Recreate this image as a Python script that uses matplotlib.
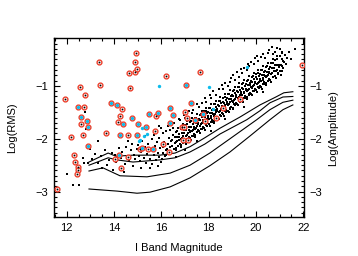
import matplotlib
matplotlib.use("Agg")
import matplotlib.pyplot as plt
from matplotlib.ticker import MultipleLocator, FuncFormatter

plt.rcParams['font.family'] = ['Liberation Sans', 'DejaVu Sans']

# ---- data (I-band magnitude, log RMS) ----
# dense band of field stars
band_mag = [
 16.01,16.05,16.09,16.12,16.15,16.18,
 16.21,16.24,16.27,16.31,16.34,16.37,16.39,
 16.41,16.44,16.47,16.50,16.53,16.56,16.58,
 16.61,16.63,16.66,16.68,16.71,16.74,16.76,16.79,
 16.81,16.83,16.86,16.88,16.91,16.93,16.96,16.98,
 17.01,17.03,17.05,17.08,17.10,17.12,17.15,17.17,17.19,
 17.21,17.23,17.25,17.27,17.30,17.32,17.34,17.36,17.38,17.40,
 17.41,17.43,17.45,17.47,17.49,17.51,17.53,17.55,17.57,17.59,
 17.61,17.63,17.65,17.67,17.69,17.71,17.73,17.75,17.77,17.79,
 17.81,17.83,17.85,17.87,17.89,17.91,17.93,17.95,17.97,17.99,
 18.01,18.03,18.05,18.07,18.09,18.11,18.13,18.15,18.17,18.19,
 18.21,18.23,18.25,18.27,18.29,18.31,18.33,18.35,18.37,18.39,
 18.41,18.43,18.45,18.47,18.49,18.51,18.53,18.55,18.57,18.59,
 18.61,18.63,18.65,18.67,18.69,18.71,18.73,18.75,18.77,18.79,
 18.81,18.83,18.85,18.87,18.89,18.91,18.93,18.95,18.97,18.99,
 19.01,19.03,19.05,19.07,19.09,19.11,19.13,19.15,19.17,19.19,
 19.21,19.23,19.25,19.27,19.29,19.31,19.33,19.35,19.37,19.39,
 19.41,19.43,19.45,19.47,19.49,19.51,19.53,19.55,19.57,19.59,
 19.61,19.63,19.65,19.67,19.69,19.71,19.73,19.75,19.77,19.79,
 19.81,19.83,19.85,19.87,19.89,19.91,19.93,19.95,19.97,19.99,
 20.01,20.03,20.05,20.07,20.09,20.11,20.13,20.15,20.17,20.19,
 20.21,20.23,20.25,20.27,20.29,20.31,20.33,20.35,20.37,20.39,
 20.41,20.43,20.45,20.47,20.49,20.51,20.53,20.55,20.57,20.59,
 20.61,20.64,20.67,20.70,20.73,20.76,20.79,
 20.82,20.85,20.88,20.91,20.94,20.97,
 21.02,21.06,21.10,21.14,21.18,
 21.25,21.30,
 # second, interleaved set
 16.64,16.72,16.68,16.76,16.62,16.70,
 16.84,16.92,16.88,16.96,16.82,16.90,
 17.04,17.12,17.08,17.16,17.02,17.10,
 17.24,17.32,17.28,17.36,17.22,17.30,
 17.44,17.52,17.48,17.56,17.42,17.50,
 17.64,17.72,17.68,17.76,17.62,17.70,
 17.84,17.92,17.88,17.96,17.82,17.90,
 18.04,18.12,18.08,18.16,18.02,18.10,
 18.24,18.32,18.28,18.36,18.22,18.30,
 18.44,18.52,18.48,18.56,18.42,18.50,
 18.64,18.72,18.68,18.76,18.62,18.70,
 18.84,18.92,18.88,18.96,18.82,18.90,
 19.04,19.12,19.08,19.16,19.02,19.10,
 19.24,19.32,19.28,19.36,19.22,19.30,
 19.44,19.52,19.48,19.56,19.42,19.50,
 19.64,19.72,19.68,19.76,19.62,19.70,
 19.84,19.92,19.88,19.96,19.82,19.90,
 20.04,20.12,20.08,20.16,20.02,20.10,
 20.24,20.32,20.28,20.36,20.22,20.30,
 20.44,20.52,20.48,20.56,20.42,20.50,
 20.64,20.72,20.68,20.76,20.62,20.70,
 20.84,20.92,20.88,20.96,20.82,20.90,
 21.04,21.12,21.08,21.16,21.02,21.10,
]
band_rms = [
 -2.38,-2.27,-2.16,-2.06,-2.33,-2.21,
 -2.31,-2.20,-2.09,-1.99,-2.26,-2.15,-2.04,
 -2.25,-2.14,-2.03,-1.93,-2.20,-2.08,-1.97,
 -2.18,-2.07,-1.96,-1.86,-2.13,-2.02,-1.91,-2.09,
 -2.12,-2.01,-1.90,-1.80,-2.07,-1.95,-1.84,-2.03,
 -2.06,-1.95,-1.84,-1.73,-2.00,-1.89,-1.78,-1.97,-1.86,
 -1.99,-1.88,-1.77,-1.66,-1.94,-1.83,-1.72,-1.91,-1.80,-1.68,
 -1.93,-1.82,-1.71,-1.60,-1.87,-1.76,-1.65,-1.84,-1.73,-1.62,
 -1.86,-1.75,-1.64,-1.54,-1.81,-1.70,-1.59,-1.78,-1.67,-1.56,
 -1.80,-1.69,-1.58,-1.47,-1.74,-1.63,-1.52,-1.71,-1.60,-1.49,
 -1.73,-1.62,-1.51,-1.41,-1.68,-1.57,-1.46,-1.65,-1.54,-1.43,
 -1.67,-1.56,-1.45,-1.34,-1.61,-1.50,-1.39,-1.58,-1.47,-1.36,
 -1.60,-1.49,-1.38,-1.28,-1.55,-1.44,-1.33,-1.52,-1.41,-1.30,
 -1.54,-1.43,-1.32,-1.21,-1.48,-1.37,-1.26,-1.45,-1.34,-1.23,
 -1.47,-1.36,-1.25,-1.15,-1.42,-1.31,-1.20,-1.39,-1.28,-1.17,
 -1.41,-1.30,-1.19,-1.08,-1.35,-1.24,-1.13,-1.32,-1.21,-1.10,
 -1.34,-1.23,-1.12,-1.02,-1.29,-1.18,-1.07,-1.26,-1.15,-1.04,
 -1.28,-1.17,-1.06,-0.95,-1.22,-1.11,-1.00,-1.19,-1.08,-0.97,
 -1.21,-1.10,-0.99,-0.89,-1.16,-1.05,-0.94,-1.13,-1.02,-0.91,
 -1.15,-1.04,-0.93,-0.82,-1.09,-0.98,-0.87,-1.06,-0.95,-0.84,
 -1.08,-0.97,-0.86,-0.76,-1.03,-0.92,-0.81,-1.00,-0.89,-0.78,
 -1.02,-0.91,-0.80,-0.69,-0.96,-0.85,-0.74,-0.93,-0.82,-0.71,
 -0.95,-0.84,-0.73,-0.63,-0.90,-0.79,-0.68,-0.87,-0.76,-0.65,
 -0.89,-0.78,-0.67,-0.56,-0.83,-0.72,-0.61,
 -0.82,-0.71,-0.60,-0.50,-0.76,-0.65,
 -0.72,-0.61,-0.50,-0.66,-0.55,
 -0.58,-0.47,
 # second, interleaved set
 -2.22,-2.14,-2.05,-1.96,-1.87,-1.80,
 -2.15,-2.08,-1.99,-1.90,-1.81,-1.73,
 -2.09,-2.01,-1.92,-1.83,-1.74,-1.67,
 -2.02,-1.95,-1.86,-1.77,-1.68,-1.60,
 -1.96,-1.88,-1.79,-1.70,-1.61,-1.54,
 -1.89,-1.82,-1.73,-1.64,-1.55,-1.47,
 -1.83,-1.75,-1.66,-1.57,-1.48,-1.41,
 -1.76,-1.69,-1.60,-1.51,-1.42,-1.34,
 -1.70,-1.62,-1.53,-1.44,-1.35,-1.28,
 -1.63,-1.56,-1.47,-1.38,-1.29,-1.21,
 -1.57,-1.49,-1.40,-1.31,-1.22,-1.15,
 -1.50,-1.43,-1.34,-1.25,-1.16,-1.08,
 -1.44,-1.36,-1.27,-1.18,-1.09,-1.02,
 -1.37,-1.30,-1.21,-1.12,-1.03,-0.95,
 -1.31,-1.23,-1.14,-1.05,-0.96,-0.89,
 -1.24,-1.17,-1.08,-0.99,-0.90,-0.82,
 -1.18,-1.10,-1.01,-0.92,-0.83,-0.76,
 -1.11,-1.04,-0.95,-0.86,-0.77,-0.69,
 -1.05,-0.97,-0.88,-0.79,-0.70,-0.63,
 -0.98,-0.91,-0.82,-0.73,-0.64,-0.56,
 -0.92,-0.84,-0.75,-0.66,-0.57,-0.50,
 -0.85,-0.78,-0.69,-0.60,-0.51,-0.43,
 -0.79,-0.71,-0.62,-0.53,-0.44,-0.37,
]
# scattered stars (fringe of the band, bright end, faint outliers)
sparse_mag = [
 17.30,17.60,17.90,18.10,18.30,18.60,18.80,18.90,19.10,19.30,19.40,19.60,
 19.70,19.90,20.10,20.20,20.40,20.50,20.66,20.80,21.00,21.24,21.40,21.65,
 21.50,16.07,16.37,16.20,16.50,16.80,17.00,15.90,
 16.55,16.75,16.95,17.15,17.35,17.50,17.70,17.85,18.05,18.20,18.45,18.55,
 18.70,18.95,19.05,19.20,19.35,19.50,19.65,19.80,19.95,20.05,20.30,20.55,
 20.70,20.90,21.10,16.30,16.00,15.80,
 17.50,18.10,18.70,19.50,20.30,17.00,16.60,
 13.05,13.20,13.30,13.45,13.60,13.70,13.80,13.90,13.95,13.50,
 14.05,14.10,14.20,14.30,14.35,14.45,14.50,14.55,14.65,14.70,14.75,14.80,
 14.85,14.90,14.95,14.40,14.60,
 15.02,15.05,15.10,15.15,15.20,15.25,15.30,15.35,15.40,15.45,15.50,15.55,
 15.60,15.62,15.67,15.72,15.76,15.80,15.84,15.88,15.92,15.96,15.98,15.30,
 15.70,15.50,15.85,15.15,
 12.00,12.25,12.52,12.70,12.88,12.72,12.82,12.78,13.00,13.30,
]
sparse_rms = [
 -1.52,-1.40,-1.30,-1.22,-1.18,-1.05,-1.00,-0.92,-0.88,-0.83,-0.76,-0.70,
 -0.62,-0.58,-0.52,-0.45,-0.48,-0.38,-0.27,-0.35,-0.30,-0.41,-0.36,-0.30,
 -0.50,-1.89,-1.83,-1.85,-1.80,-1.65,-1.60,-1.75,
 -1.70,-1.62,-1.55,-1.48,-1.45,-1.35,-1.33,-1.22,-1.18,-1.10,-1.05,-0.98,
 -0.95,-0.85,-0.80,-0.74,-0.68,-0.66,-0.58,-0.55,-0.48,-0.44,-0.40,-0.32,
 -0.40,-0.28,-0.35,-1.75,-1.80,-1.85,
 -2.05,-1.85,-1.62,-1.40,-1.12,-2.22,-2.35,
 -2.38,-2.28,-2.45,-2.33,-2.21,-2.50,-2.40,-2.26,-2.60,-2.55,
 -2.30,-2.43,-2.18,-2.36,-2.25,-2.48,-2.15,-2.33,-2.40,-2.22,-2.10,-2.52,
 -2.30,-2.38,-2.20,-2.62,-2.05,
 -2.12,-2.33,-2.42,-2.25,-2.05,-2.36,-2.15,-2.45,-2.28,-2.10,-2.38,-2.22,
 -2.00,-2.48,-2.30,-2.14,-2.40,-2.06,-2.26,-2.35,-1.98,-2.18,-2.44,-1.95,
 -1.92,-2.55,-2.52,-2.55,
 -2.67,-2.87,-2.87,-2.37,-2.45,-2.46,-1.82,-1.50,-2.20,-2.05,
]

# variables marked with red rings (black centre)
var_mag = [14.94,13.35,14.90,14.63,14.89,14.96,16.18,12.56,13.42,14.69,11.92,12.76,
           12.73,14.32,14.24,15.79,17.63,12.62,14.18,19.32,18.62,16.99,18.29,17.86,
           17.10,21.95,15.72,12.20,12.70,13.64,14.60,16.05,14.59,14.06,14.29,12.30,
           12.35,12.46,12.48,12.42,11.60,15.42,15.10,16.34,16.86,16.96,16.90,17.14]
var_rms = [-0.38,-0.55,-0.55,-0.75,-0.735,-0.68,-0.82,-1.03,-0.975,-1.04,-1.25,-1.17,
           -1.40,-1.44,-1.56,-1.57,-0.735,-1.73,-1.69,-1.25,-1.42,-1.49,-1.61,-1.66,
           -1.61,-0.60,-1.85,-1.97,-1.93,-1.90,-1.93,-2.10,-2.34,-2.39,-2.56,-2.31,
           -2.44,-2.53,-2.59,-2.67,-2.95,-2.19,-2.19,-2.25,-1.78,-1.78,-2.02,-2.03]

# variables marked with red rings (cyan centre)
cvar_mag = [12.48,13.86,14.14,12.59,12.84,14.77,15.48,15.84,16.35,16.48,12.90,14.37,
            15.00,15.34,16.35,17.05,17.24,17.75,17.42,12.91,14.25,14.98,15.19,15.65,14.21]
cvar_rms = [-1.40,-1.32,-1.37,-1.58,-1.66,-1.61,-1.53,-1.52,-1.41,-1.55,-1.78,-1.73,
            -1.73,-1.78,-1.71,-0.99,-1.33,-1.54,-1.64,-2.14,-1.92,-1.93,-2.18,-2.19,-2.30]

# cyan-only points
cyan_mag = [15.90,18.00,19.60,18.17,15.17,15.38,15.07,15.28,15.10]
cyan_rms = [-0.995,-1.02,-0.635,-1.43,-1.80,-1.91,-2.05,-1.95,-2.02]

# noise curves
c1_mag = [12.94,13.41,13.75,14.08,14.80,15.94,16.58,17.21,17.84,18.48,19.32,20.17,20.84,21.18,21.56]
c1_rms = [-2.44,-2.34,-2.27,-2.33,-2.31,-2.31,-2.27,-2.15,-1.98,-1.80,-1.59,-1.36,-1.21,-1.13,-1.11]
c2_mag = [12.94,13.41,13.75,14.13,14.80,15.94,16.58,17.21,17.84,18.48,19.61,20.17,20.59,21.14,21.56]
c2_rms = [-2.50,-2.42,-2.36,-2.40,-2.44,-2.40,-2.36,-2.25,-2.10,-1.91,-1.64,-1.47,-1.32,-1.21,-1.20]
c3_mag = [12.94,13.53,14.25,15.39,16.37,17.21,18.05,18.90,20.03,20.59,21.14,21.56]
c3_rms = [-2.61,-2.55,-2.70,-2.72,-2.65,-2.50,-2.27,-2.00,-1.64,-1.45,-1.31,-1.27]
c4_mag = [12.94,14.13,14.97,15.52,16.37,17.21,18.05,18.90,19.74,20.59,21.14,21.56]
c4_rms = [-2.95,-2.99,-3.03,-3.01,-2.91,-2.74,-2.51,-2.25,-1.95,-1.64,-1.45,-1.36]

RED = '#ec3f2c'
CYAN = '#0cbcec'

fig = plt.figure(figsize=(3.58, 2.56), dpi=100)
ax = fig.add_axes([0.1508, 0.1523, 0.6983, 0.698])

for cm, cr in [(c1_mag, c1_rms), (c2_mag, c2_rms), (c3_mag, c3_rms), (c4_mag, c4_rms)]:
    ax.plot(cm, cr, color='black', lw=0.8, zorder=2)

ax.scatter(band_mag, band_rms, s=4.0, c='black', marker='s', linewidths=0, zorder=3)
ax.scatter(sparse_mag, sparse_rms, s=2.0, c='black', marker='s', linewidths=0, zorder=3)

ax.scatter(var_mag, var_rms, s=12, facecolors='white', edgecolors=RED, linewidths=1.0, zorder=4)
ax.scatter(var_mag, var_rms, s=1.8, c='black', linewidths=0, zorder=5)
ax.scatter(cvar_mag, cvar_rms, s=12, facecolors='white', edgecolors=RED, linewidths=1.0, zorder=4)
ax.scatter(cvar_mag, cvar_rms, s=6, c=CYAN, linewidths=0, zorder=5)
ax.scatter(cyan_mag, cyan_rms, s=6, c=CYAN, linewidths=0, zorder=5)

ax.set_xlim(11.46, 22.03)
ax.set_ylim(-3.48, -0.10)

ax.xaxis.set_major_locator(MultipleLocator(2))
ax.xaxis.set_minor_locator(MultipleLocator(0.5))
ax.yaxis.set_major_locator(MultipleLocator(1))
ax.yaxis.set_minor_locator(MultipleLocator(0.1))
ax.yaxis.set_major_formatter(FuncFormatter(lambda v, p: '\u2212%d' % round(-v) if v < 0 else '%d' % round(v)))

ax.tick_params(which='both', direction='in', top=True, right=True, labelright=True,
               labelsize=8, width=0.8, pad=4)
ax.tick_params(which='major', length=4)
ax.tick_params(which='minor', length=2)
for sp in ax.spines.values():
    sp.set_linewidth(1.0)

ax.set_xlabel('I Band Magnitude', fontsize=8)
ax.set_ylabel('Log(RMS)', fontsize=8)
ax.xaxis.set_label_coords(0.5, -0.145)
ax.yaxis.set_label_coords(-0.148, 0.5)
fig.text(333/358, 0.5, 'Log(Amplitude)', rotation=90, fontsize=8, ha='center', va='center')

fig.savefig('out.png', dpi=100)
